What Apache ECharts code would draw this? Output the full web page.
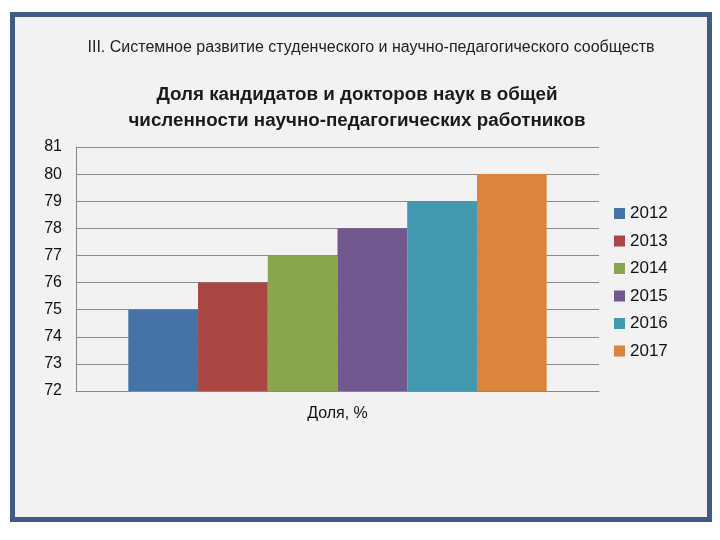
<!DOCTYPE html>
<html>
<head>
<meta charset="utf-8">
<script src="https://cdn.jsdelivr.net/npm/echarts@6/dist/echarts.min.js"></script>
<style>
html,body{margin:0;padding:0;background:#fff;}
#c{width:720px;height:540px;}
</style>
</head>
<body>
<div id="c"></div>
<script>
const categories = ['Доля, %'];
const years = ['2012', '2013', '2014', '2015', '2016', '2017'];
const values = [75, 76, 77, 78, 79, 80];
const colors = ['#4572a7', '#aa4643', '#89a54e', '#71588f', '#4198af', '#db843d'];
const yTicks = { min: 72, max: 81, interval: 1 };

const chart = echarts.init(document.getElementById('c'));
const font = '"Liberation Sans", Arial, sans-serif';
chart.setOption({
  backgroundColor: '#ffffff',
  animation: false,
  graphic: [
    { type: 'rect', shape: { x: 12.5, y: 14.5, width: 697, height: 505 }, style: { fill: '#f2f2f2', stroke: '#3f5c85', lineWidth: 5 }, z: -10 },
    { type: 'text', x: 371, y: 40, style: { text: 'III. Системное развитие студенческого и научно-педагогического сообществ', font: '16px ' + font, fill: '#222', align: 'center' } },
    { type: 'text', x: 357, y: 82, style: { text: 'Доля кандидатов и докторов наук в общей\nчисленности научно-педагогических работников', font: 'bold 18.8px ' + font, fill: '#1a1a1a', align: 'center', lineHeight: 26 } }
  ],
  color: colors,
  grid: { left: 76, right: 121, top: 147, bottom: 149, containLabel: false },
  legend: {
    orient: 'vertical', left: 609, top: 200,
    itemWidth: 11, itemHeight: 11, itemGap: 10.5,
    icon: 'rect',
    textStyle: { fontSize: 17, fontFamily: font, color: '#111', padding: [0, 0, 0, 0] },
    data: years
  },
  xAxis: {
    type: 'category', data: categories,
    axisLine: { lineStyle: { color: '#888' } },
    axisTick: { show: false },
    axisLabel: { fontSize: 16, fontFamily: font, color: '#111', margin: 15 }
  },
  yAxis: {
    type: 'value', min: yTicks.min, max: yTicks.max, interval: yTicks.interval,
    axisLine: { show: true, lineStyle: { color: '#888' } },
    axisTick: { show: false },
    splitLine: { lineStyle: { color: '#8a8a8a' } },
    axisLabel: { fontSize: 16, fontFamily: font, color: '#111', margin: 14 }
  },
  series: years.map((y, i) => ({
    name: y, type: 'bar', data: [values[i]],
    barGap: '0%', barCategoryGap: '20%'
  }))
});
</script>
</body>
</html>
